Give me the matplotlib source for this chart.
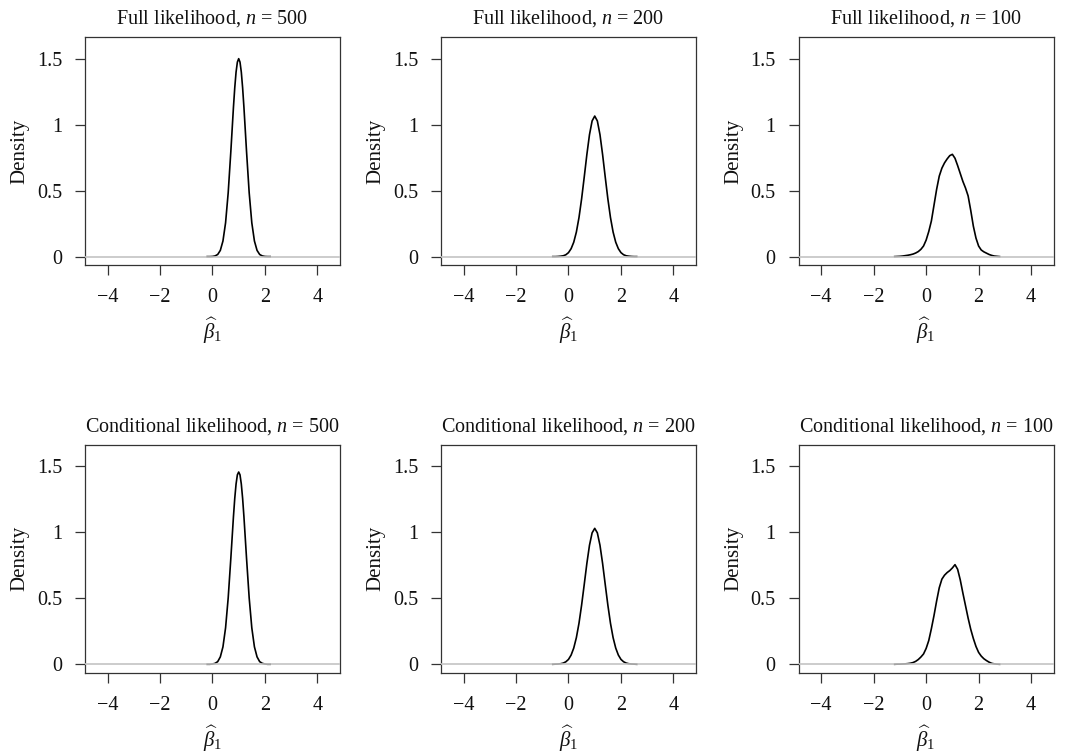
import matplotlib
matplotlib.use("Agg")
import matplotlib.pyplot as plt

plt.rcParams['font.family'] = ['Liberation Serif', 'DejaVu Serif']
plt.rcParams['mathtext.fontset'] = 'custom'
plt.rcParams['mathtext.rm'] = 'Liberation Serif'
plt.rcParams['mathtext.it'] = 'Liberation Serif:italic'
plt.rcParams['mathtext.bf'] = 'Liberation Serif:bold'

# grid points where the density estimates were evaluated
x_500 = [-0.2, -0.1, 0.0, 0.1, 0.2, 0.3, 0.4, 0.5, 0.6, 0.7, 0.8, 0.85, 0.9, 0.95, 1.0,
         1.05, 1.1, 1.15, 1.2, 1.3, 1.4, 1.5, 1.6, 1.7, 1.8, 1.9, 2.0, 2.1, 2.2]
x_200 = [-0.6, -0.5, -0.4, -0.3, -0.2, -0.1, 0.0, 0.1, 0.2, 0.3, 0.4, 0.5, 0.6, 0.7, 0.8,
         0.9, 1.0, 1.1, 1.2, 1.3, 1.4, 1.5, 1.6, 1.7, 1.8, 1.9, 2.0, 2.1, 2.2, 2.3, 2.4,
         2.5, 2.6]
x_100 = [-1.2, -1.1, -1.0, -0.9, -0.8, -0.7, -0.6, -0.5, -0.4, -0.3, -0.2, -0.1, 0.0,
         0.1, 0.2, 0.3, 0.4, 0.5, 0.6, 0.7, 0.8, 0.9, 1.0, 1.1, 1.2, 1.3, 1.4, 1.5, 1.6,
         1.7, 1.8, 1.9, 2.0, 2.1, 2.2, 2.3, 2.4, 2.5, 2.6, 2.7, 2.8]

# kernel density of beta1-hat, full likelihood
full_500 = [0.000, 0.000, 0.001, 0.005, 0.016, 0.047, 0.118, 0.256, 0.484, 0.794, 1.131,
            1.279, 1.398, 1.474, 1.500, 1.474, 1.398, 1.279, 1.131, 0.794, 0.484, 0.256,
            0.118, 0.047, 0.016, 0.005, 0.001, 0.000, 0.000]
full_200 = [0.000, 0.000, 0.001, 0.003, 0.006, 0.014, 0.030, 0.060, 0.109, 0.186, 0.296,
            0.438, 0.603, 0.773, 0.924, 1.028, 1.065, 1.028, 0.924, 0.773, 0.603, 0.438,
            0.296, 0.186, 0.109, 0.060, 0.030, 0.014, 0.006, 0.003, 0.001, 0.000, 0.000]
full_100 = [0.000, 0.001, 0.002, 0.004, 0.007, 0.010, 0.014, 0.019, 0.027, 0.038, 0.055,
            0.080, 0.125, 0.19, 0.27, 0.39, 0.51, 0.61, 0.67, 0.71, 0.74, 0.765, 0.775,
            0.745, 0.69, 0.63, 0.57, 0.52, 0.46, 0.35, 0.23, 0.14, 0.08, 0.05, 0.036,
            0.026, 0.016, 0.009, 0.004, 0.002, 0.000]

# kernel density of beta1-hat, conditional likelihood
cond_500 = [0.000, 0.000, 0.002, 0.007, 0.020, 0.056, 0.132, 0.276, 0.503, 0.801, 1.118,
            1.257, 1.366, 1.436, 1.457, 1.436, 1.366, 1.257, 1.118, 0.801, 0.503, 0.276,
            0.132, 0.056, 0.020, 0.007, 0.002, 0.000, 0.000]
cond_200 = [0.000, 0.001, 0.002, 0.004, 0.009, 0.019, 0.037, 0.070, 0.123, 0.202, 0.311,
            0.449, 0.605, 0.764, 0.902, 0.996, 1.030, 0.996, 0.902, 0.764, 0.605, 0.449,
            0.311, 0.202, 0.123, 0.070, 0.037, 0.019, 0.009, 0.004, 0.002, 0.001, 0.000]
cond_100 = [0.000, 0.001, 0.001, 0.002, 0.003, 0.005, 0.008, 0.013, 0.022, 0.036, 0.055,
            0.078, 0.12, 0.18, 0.27, 0.37, 0.48, 0.58, 0.645, 0.675, 0.695, 0.71, 0.73,
            0.755, 0.72, 0.64, 0.54, 0.445, 0.35, 0.265, 0.195, 0.135, 0.09, 0.062, 0.042,
            0.028, 0.016, 0.007, 0.003, 0.001, 0.000]

sample_sizes = [500, 200, 100]
methods = ['Full likelihood', 'Conditional likelihood']
xgrids = [x_500, x_200, x_100]
densities = [[full_500, full_200, full_100],
             [cond_500, cond_200, cond_100]]

x_ticks = [-4, -2, 0, 2, 4]
y_ticks = [0, 0.5, 1, 1.5]
y_ticklabels = ['0', '0.5', '1', '1.5']

fig = plt.figure(figsize=(10.66, 7.54), dpi=100)

lefts = [0.0797, 0.4137, 0.7492]
bottoms = [0.6485, 0.1078]
w, h = 0.2392, 0.3024
axis_col = '#333333'
txt_col = '#111111'

for r, method in enumerate(methods):
    for c, n in enumerate(sample_sizes):
        ax = fig.add_axes([lefts[c], bottoms[r], w, h])
        ax.plot(xgrids[c], densities[r][c], color='black', lw=1.2, zorder=2)
        ax.axhline(0, color='#c4c4c4', lw=1.2, zorder=3)
        ax.set_xlim(-4.86, 4.86)
        ax.set_ylim(-0.064, 1.664)
        ax.set_xticks(x_ticks)
        ax.set_yticks(y_ticks)
        ax.set_yticklabels(y_ticklabels)
        ax.tick_params(direction='out', length=7.5, width=0.9, color=axis_col,
                       labelsize=14.5, labelcolor=txt_col, pad=9)
        for sp in ax.spines.values():
            sp.set_color(axis_col)
            sp.set_linewidth(0.9)
        ax.set_title(f'{method}, $n$ = {n}', fontsize=14.5, pad=9.5, color=txt_col)
        ax.set_ylabel('Density', fontsize=15, color=txt_col)
        ax.yaxis.set_label_coords(-0.255, 0.5)
        ax.yaxis.label.set_va('center')
        ax.set_xlabel(r'$\widehat{\beta}_1$', fontsize=15, color=txt_col)
        ax.xaxis.set_label_coords(0.5, -0.29)
        ax.xaxis.label.set_va('center')

fig.savefig('out.png', dpi=100, facecolor='white')
